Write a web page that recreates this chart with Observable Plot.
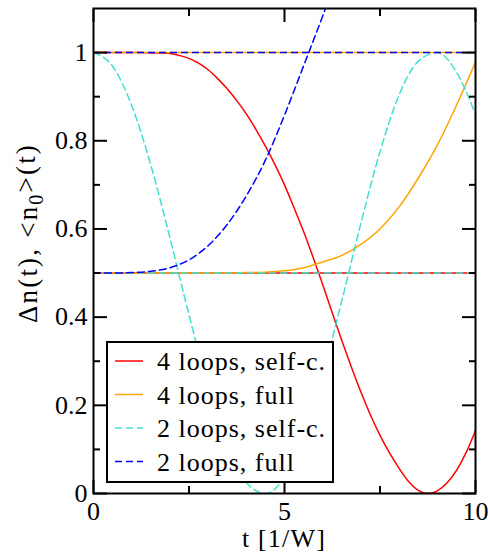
<!DOCTYPE html>
<html><head><meta charset="utf-8">
<script src="https://cdn.jsdelivr.net/npm/d3@7"></script>
<script src="https://cdn.jsdelivr.net/npm/@observablehq/plot@0.6"></script>
<style>
body{margin:0;background:#fff}
svg, svg text {font-family: "Liberation Serif", "Liberation Sans", Arial, sans-serif !important;}
</style>
</head><body><div id="chart"></div>
<script>
// time grids [1/W]
const t = [0,0.5,1,1.5,2,2.5,3,3.5,4,4.5,5,5.5,6,6.5,7,7.5,8,8.5,9,9.5,10];
const tFine = [0,0.25,0.5,0.75,1,1.25,1.5,1.75,2,2.25,2.5,2.75,3,3.25,3.5,3.75,4,4.25,4.5,4.75,5,5.25,5.5,5.75,6,6.25,6.5,6.75,7,7.25,7.5,7.75,8,8.25,8.5,8.75,9,9.25,9.5,9.75,10];
// 4 loops, self-consistent: Δn(t)  (on tFine)
const loops4Self = [1,1,1,1,1,1,0.9995,0.999,0.998,0.9935,0.987,0.976,0.961,0.941,0.918,0.891,0.861,0.826,0.788,0.746,0.70,0.648,0.594,0.535,0.474,0.41,0.347,0.287,0.23,0.178,0.132,0.092,0.057,0.027,0.007,0.0,0.006,0.024,0.052,0.092,0.143];
// 4 loops, full: <n0>(t)
const loops4Full = [0.5,0.5,0.5,0.5,0.5,0.5,0.5,0.5,0.501,0.502,0.505,0.512,0.525,0.54,0.565,0.6,0.65,0.715,0.79,0.88,0.978];
// 2 loops, self-consistent: Δn(t)
const loops2Self = [1.0,0.969,0.88,0.745,0.58,0.405,0.24,0.108,0.025,0.0,0.037,0.131,0.27,0.437,0.613,0.775,0.904,0.98,1.0,0.956,0.86];
// 2 loops, full: <n0>(t)
const loops2Full = [0.5,0.5,0.501,0.504,0.512,0.53,0.562,0.61,0.675,0.756,0.858,0.97,1.083,1.2,null,null,null,null,null,null,null];
// constant companions
const n0SelfC = 0.5;   // <n0>(t) for self-consistent runs
const dnFull = 1.0;    // Δn(t) for full runs

const seriesNames = ["4 loops, self-c.","4 loops, full","2 loops, self-c.","2 loops, full"];
const colors = ["#ff0000","#ffa500","#40e0d0","#0000ff"];
const dashes = [null,null,"7,4","7,4"];

const xMajor = [0,5,10], xMinor = [2.5,7.5];
const yMajor = [0,0.2,0.4,0.6,0.8,1], yMinor = [0.1,0.3,0.5,0.7,0.9];
const yLabels = ["0","0.2","0.4","0.6","0.8","1"];

const rows = (xs, vals) => xs.map((x,i)=>({t:x, v:vals[i]})).filter(d=>d.v!=null);
const curves = [[tFine,loops4Self],[t,loops4Full],[t,loops2Self],[t,loops2Full]];
const consts = [n0SelfC, dnFull, n0SelfC, dnFull];

const marks = [];
curves.forEach(([xs,c],i)=>{
  marks.push(Plot.line(rows(xs,c), {x:"t", y:"v", stroke:colors[i], strokeWidth:1.5, strokeDasharray:dashes[i], curve:"monotone-x", clip:true}));
  marks.push(Plot.ruleY([consts[i]], {stroke:colors[i], strokeWidth:1.5, strokeDasharray:dashes[i]}));
});
const tk = {fill:"none", label:null, strokeWidth:2, stroke:"black"};
marks.push(
  Plot.axisX(xMajor, {anchor:"bottom", tickSize:-13, ...tk}),
  Plot.axisX(xMinor, {anchor:"bottom", tickSize:-7, ...tk}),
  Plot.axisX(xMajor, {anchor:"top", tickSize:-13, ...tk}),
  Plot.axisX(xMinor, {anchor:"top", tickSize:-7, ...tk}),
  Plot.axisY(yMajor, {anchor:"left", tickSize:-14, ...tk}),
  Plot.axisY(yMinor, {anchor:"left", tickSize:-7, ...tk}),
  Plot.axisY(yMajor, {anchor:"right", tickSize:-14, ...tk}),
  Plot.axisY(yMinor, {anchor:"right", tickSize:-7, ...tk}),
  Plot.axisX(xMajor, {anchor:"bottom", tickSize:0, tickPadding:8, label:null, fill:"black", fontSize:26, tickFormat:d=>String(d)}),
  Plot.axisY(yMajor, {anchor:"left", tickSize:0, tickPadding:6, label:null, fill:"black", fontSize:26, tickFormat:d=>yLabels[yMajor.indexOf(d)]}),
  Plot.frame({stroke:"black", strokeWidth:2})
);

const FF = "'Liberation Serif', 'Liberation Sans', Arial, sans-serif";
const plot = Plot.plot({
  width:488, height:556,
  marginLeft:93, marginRight:13, marginTop:8, marginBottom:63,
  x:{domain:[0,10]}, y:{domain:[0,1.1]},
  style:{fontFamily:FF, fontSize:"26px", background:"white", color:"black"},
  marks
});
document.getElementById("chart").appendChild(plot);

const svg = d3.select(plot);
// axis titles
svg.append("text").attr("x",284).attr("y",547).attr("text-anchor","middle")
  .attr("font-family",FF).attr("font-size",26).attr("letter-spacing",1.2).attr("fill","black").text("t [1/W]");
const yl = svg.append("text").attr("transform","translate(37,233) rotate(-90)")
  .attr("text-anchor","middle").attr("font-family",FF).attr("font-size",27)
  .attr("letter-spacing",2.2).attr("fill","black");
yl.append("tspan").text("Δn(t), <n");
yl.append("tspan").attr("font-size",20).attr("dy","0.3em").text("0");
yl.append("tspan").attr("dy","-0.3em").text(">(t)");

// legend
const lg = svg.append("g");
lg.append("rect").attr("x",107).attr("y",342).attr("width",226).attr("height",140)
  .attr("fill","white").attr("stroke","black").attr("stroke-width",2);
seriesNames.forEach((name,i)=>{
  const yy = 361 + i*33.5;
  lg.append("line").attr("x1",115).attr("x2",143).attr("y1",yy).attr("y2",yy)
    .attr("stroke",colors[i]).attr("stroke-width",1.5).attr("stroke-dasharray",dashes[i]);
  lg.append("text").attr("x",157).attr("y",yy+9).attr("text-anchor","start")
    .attr("font-family",FF).attr("font-size",26).attr("letter-spacing",1).attr("fill","black").text(name);
});
</script>
</body></html>
